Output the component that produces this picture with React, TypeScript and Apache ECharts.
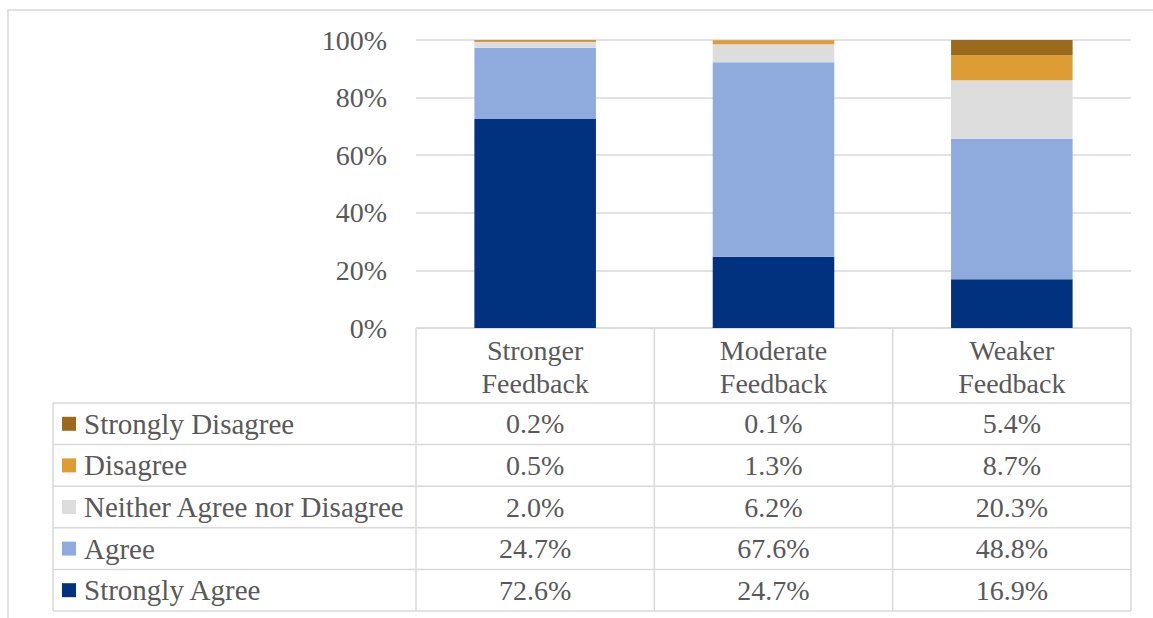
import React, { useEffect, useRef } from "react";
import * as echarts from "echarts";

const categories = ["Stronger\nFeedback", "Moderate\nFeedback", "Weaker\nFeedback"];
const seriesNames = [
  "Strongly Agree",
  "Agree",
  "Neither Agree nor Disagree",
  "Disagree",
  "Strongly Disagree",
];
const stronglyAgree = [72.6, 24.7, 16.9];
const agree = [24.7, 67.6, 48.8];
const neither = [2.0, 6.2, 20.3];
const disagree = [0.5, 1.3, 8.7];
const stronglyDisagree = [0.2, 0.1, 5.4];
const seriesColors = ["#00327F", "#8FAADC", "#DEDDDD", "#DE9D34", "#9C6A1C"];

const FONT = '"Liberation Serif", "Times New Roman", serif';
const TEXT = "#595959";
const LINE = "#D9D9D9";

export default function App() {
  const ref = useRef<HTMLDivElement>(null);
  useEffect(() => {
    document.body.style.margin = "0";
    const chart = echarts.init(ref.current!, null, { renderer: "svg" });
    const W = 1153;
    const H = 618;
    const gridLeft = 416;
    const gridRight = 1131;
    const gridTop = 40;
    const gridBottom = 328;
    const tableLeft = 53;
    const headerBottom = 403;
    const tableBottom = 611;
    const values = [stronglyAgree, agree, neither, disagree, stronglyDisagree];
    const rowOrder = [4, 3, 2, 1, 0];
    const rowH = (tableBottom - headerBottom) / rowOrder.length;
    const colW = (gridRight - gridLeft) / categories.length;

    const graphic: any[] = [];
    graphic.push({
      type: "rect",
      shape: { x: 8, y: 10, width: W + 20, height: H + 20 },
      style: { fill: "none", stroke: LINE, lineWidth: 1.5 },
      silent: true,
    });
    const hline = (y: number, x1: number, x2: number) =>
      graphic.push({
        type: "line",
        shape: { x1, y1: y, x2, y2: y },
        style: { stroke: LINE, lineWidth: 1.5 },
        silent: true,
      });
    const vline = (x: number, y1: number, y2: number) =>
      graphic.push({
        type: "line",
        shape: { x1: x, y1, x2: x, y2 },
        style: { stroke: LINE, lineWidth: 1.5 },
        silent: true,
      });
    hline(gridBottom, gridLeft, gridRight);
    for (let r = 0; r <= rowOrder.length; r++) {
      hline(headerBottom + r * rowH, tableLeft, gridRight);
    }
    vline(tableLeft, headerBottom, tableBottom);
    for (let c = 0; c <= categories.length; c++) {
      vline(gridLeft + c * colW, gridBottom, tableBottom);
    }
    categories.forEach((cat, c) => {
      graphic.push({
        type: "text",
        x: gridLeft + colW * (c + 0.5),
        y: (gridBottom + headerBottom) / 2 + 1,
        style: {
          text: cat,
          fill: TEXT,
          fontFamily: FONT,
          fontSize: 28,
          lineHeight: 33,
          align: "center",
          verticalAlign: "middle",
        },
        silent: true,
      });
    });
    rowOrder.forEach((si, r) => {
      const cy = headerBottom + rowH * (r + 0.5);
      graphic.push({
        type: "rect",
        shape: { x: 62, y: cy - 7, width: 14, height: 14 },
        style: { fill: seriesColors[si] },
        silent: true,
      });
      graphic.push({
        type: "text",
        x: 84,
        y: cy,
        style: {
          text: seriesNames[si],
          fill: TEXT,
          fontFamily: FONT,
          fontSize: 29,
          align: "left",
          verticalAlign: "middle",
        },
        silent: true,
      });
      values[si].forEach((v, c) => {
        graphic.push({
          type: "text",
          x: gridLeft + colW * (c + 0.5),
          y: cy,
          style: {
            text: v.toFixed(1) + "%",
            fill: TEXT,
            fontFamily: FONT,
            fontSize: 28,
            align: "center",
            verticalAlign: "middle",
          },
          silent: true,
        });
      });
    });

    chart.setOption({
      animation: false,
      backgroundColor: "#FFFFFF",
      grid: {
        left: gridLeft,
        right: W - gridRight,
        top: gridTop,
        bottom: H - gridBottom,
      },
      xAxis: {
        type: "category",
        data: categories,
        axisLine: { show: false },
        axisTick: { show: false },
        axisLabel: { show: false },
      },
      yAxis: {
        type: "value",
        min: 0,
        max: 100,
        interval: 20,
        axisLine: { show: false },
        axisTick: { show: false },
        axisLabel: {
          formatter: "{value}%",
          color: TEXT,
          fontFamily: FONT,
          fontSize: 28,
          margin: 29,
        },
        splitLine: { lineStyle: { color: LINE, width: 1.5 } },
      },
      series: seriesNames.map((name, i) => ({
        name,
        type: "bar",
        stack: "total",
        barCategoryGap: "49%",
        data: values[i],
        itemStyle: { color: seriesColors[i] },
      })),
      graphic,
    });
    return () => chart.dispose();
  }, []);
  return <div ref={ref} style={{ width: 1153, height: 618 }} />;
}
